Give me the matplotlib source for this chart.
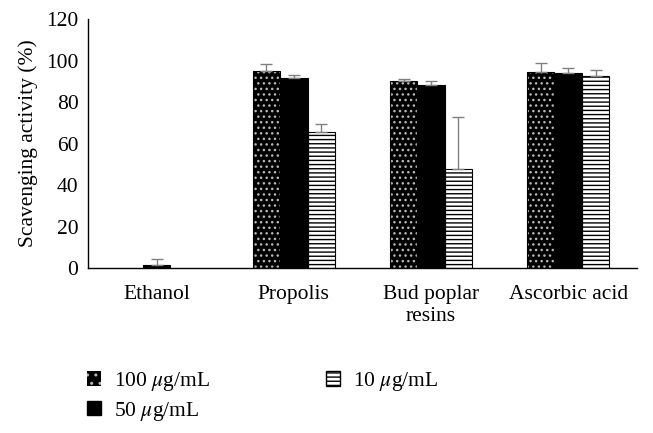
import numpy as np
import matplotlib
matplotlib.use('Agg')
import matplotlib.pyplot as plt
from matplotlib.patches import Patch

# --- Data ---
categories = ["Ethanol", "Propolis", "Bud poplar\nresins", "Ascorbic acid"]
series_labels = [r"100 $\mu$g/mL", r"50 $\mu$g/mL", r"10 $\mu$g/mL"]
vals_100 = [0.0, 95.0, 90.2, 94.5]
vals_50 = [1.5, 91.5, 88.2, 93.8]
vals_10 = [0.0, 65.5, 47.5, 92.6]
err_100 = [0.0, 3.5, 0.7, 4.5]
err_50 = [3.0, 1.3, 1.8, 2.8]
err_10 = [0.0, 4.0, 25.5, 2.8]

FS = 15.5
plt.rcParams['font.family'] = ['Liberation Serif', 'DejaVu Serif']
plt.rcParams['mathtext.fontset'] = 'stix'
plt.rcParams['hatch.linewidth'] = 1.0

fig = plt.figure(figsize=(6.53, 4.33), dpi=100)
ax = fig.add_axes([0.135, 0.381, 0.84, 0.575])

x = np.arange(len(categories))
w = 0.2
series = [vals_100, vals_50, vals_10]
errs = [err_100, err_50, err_10]
styles = [
    dict(facecolor='black', hatch_color='#b8b8b8', hatch='...'),
    dict(facecolor='black', hatch_color='black', hatch=''),
    dict(facecolor='white', hatch_color='black', hatch='----'),
]

for i, (vals, er, st) in enumerate(zip(series, errs, styles)):
    xs = x + (i - 1) * w
    vals = np.array(vals)
    er = np.array(er)
    keep = vals > 0  # zero bars are not drawn in the reference
    ax.bar(xs[keep], vals[keep], w, color=st['facecolor'], edgecolor=st['hatch_color'],
           hatch=st['hatch'], linewidth=0, zorder=2)
    ax.bar(xs[keep], vals[keep], w, fill=False, edgecolor='black', linewidth=0.8, zorder=3)
    ax.errorbar(xs[keep], vals[keep], yerr=[np.zeros(keep.sum()), er[keep]], fmt='none',
                ecolor='#808080', elinewidth=1.0, capsize=4, capthick=1.0, zorder=4)

ax.set_xlim(-0.5, 3.5)
ax.set_ylim(0, 120)
ax.set_yticks(range(0, 121, 20))
ax.set_xticks(x)
ax.set_xticklabels(categories, fontsize=FS, linespacing=1.25)
ax.tick_params(axis='y', length=0, labelsize=FS, pad=7)
ax.tick_params(axis='x', length=0, labelsize=FS, pad=12)
ax.set_ylabel("Scavenging activity (%)", fontsize=FS, labelpad=6)
for s in ['top', 'right']:
    ax.spines[s].set_visible(False)
for s in ['left', 'bottom']:
    ax.spines[s].set_linewidth(1.0)

handles = [
    Patch(facecolor='black', edgecolor='#b8b8b8', hatch='..', linewidth=0),
    Patch(facecolor='black', edgecolor='black'),
    Patch(facecolor='white', edgecolor='black', hatch='----'),
]
fig.legend(handles, series_labels, ncol=2, loc='upper left',
           bbox_to_anchor=(0.133, 0.145), frameon=False, fontsize=FS,
           handlelength=0.65, handleheight=0.65, columnspacing=5.4,
           labelspacing=0.3, handletextpad=0.6, borderaxespad=0, borderpad=0)

fig.savefig("out.png", dpi=100)
